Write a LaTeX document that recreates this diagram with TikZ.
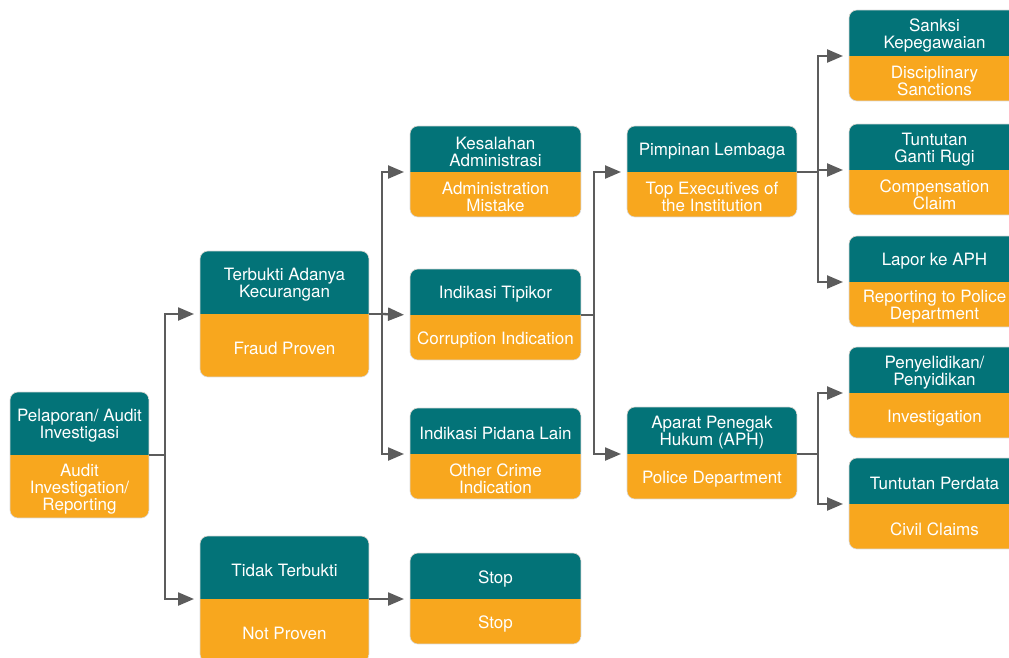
\documentclass[tikz,border=0pt]{standalone}
\usepackage{fontspec}
\setmainfont{TeX Gyre Heros}
\usetikzlibrary{arrows.meta,calc}
\definecolor{boxteal}{RGB}{3,115,120}
\definecolor{boxorange}{RGB}{248,167,30}
\definecolor{linkgray}{RGB}{92,92,92}
\tikzset{
  boxframe/.style={inner sep=0pt, outer sep=0pt, draw=none},
  boxlabel/.style={text=white, align=center, inner sep=0pt, yshift=-2.5pt,
    font=\fontsize{17}{17}\selectfont},
  link/.style={draw=linkgray, line width=2.3pt},
  flow/.style={link, -{Triangle[length=16pt,width=13pt]}, shorten >=6pt},
}
% \flowbox{name}{left}{top}{width}{upper height}{total height}{upper text}{lower text}
\newcommand\flowbox[8]{%
  \node[boxframe, minimum width=#4pt, minimum height=#6pt, anchor=north west] (#1) at (#2,#3) {};
  \begin{scope}
    \clip[rounded corners=8pt] (#1.north west) rectangle (#1.south east);
    \fill[boxorange] (#1.north west) rectangle (#1.south east);
    \fill[boxteal] (#1.north west) rectangle ($(#1.north east)+(0,#5)$);
  \end{scope}
  \draw[black!15, line width=0.6pt, rounded corners=8pt] (#1.north west) rectangle (#1.south east);
  \coordinate (#1-l) at ($(#1.north west)+(0,#5)$);
  \coordinate (#1-r) at ($(#1.north east)+(0,#5)$);
  \node[boxlabel] (#1-top) at ($(#1.north)!0.5!(#1-l -| #1.north)$) {#7};
  \node[boxlabel] (#1-bot) at ($(#1.south)!0.5!(#1-l -| #1.south)$) {#8};
}
\begin{document}
\begin{tikzpicture}[x=1pt,y=-1pt]
  \clip (0,0) rectangle (1009,657);

  % column 1
  \flowbox{pel}{10}{392}{139}{63}{126}{Pelaporan/ Audit\\Investigasi}{Audit\\Investigation/\\Reporting}
  % column 2
  \flowbox{ter}{200}{251}{169}{63}{126}{Terbukti Adanya\\Kecurangan}{Fraud Proven}
  \flowbox{tid}{200}{536}{169}{63}{126}{Tidak Terbukti}{Not Proven}
  % column 3
  \flowbox{kes}{410}{126}{171}{46}{91}{Kesalahan\\Administrasi}{Administration\\Mistake}
  \flowbox{tip}{410}{269}{171}{46}{91}{Indikasi Tipikor}{Corruption Indication}
  \flowbox{pid}{410}{408}{171}{46}{91}{Indikasi Pidana Lain}{Other Crime\\Indication}
  \flowbox{stop}{410}{553}{171}{46}{91}{Stop}{Stop}
  % column 4
  \flowbox{pim}{627}{126}{170}{46}{91}{Pimpinan Lembaga}{Top Executives of\\the Institution}
  \flowbox{apa}{627}{407}{170}{47}{92}{Aparat Penegak\\Hukum (APH)}{Police Department}
  % column 5
  \flowbox{san}{849}{10}{171}{46}{91}{Sanksi\\Kepegawaian}{Disciplinary\\Sanctions}
  \flowbox{gan}{849}{124}{171}{46}{91}{Tuntutan\\Ganti Rugi}{Compensation\\Claim}
  \flowbox{lap}{849}{236}{171}{46}{91}{Lapor ke APH}{Reporting to Police\\Department}
  \flowbox{pen}{849}{347}{171}{46}{91}{Penyelidikan/\\Penyidikan}{Investigation}
  \flowbox{per}{849}{458}{171}{46}{91}{Tuntutan Perdata}{Civil Claims}

  % branch points
  \coordinate (j1) at ($(pel-r)+(16,0)$);
  \coordinate (j2) at ($(ter-r)+(13,0)$);
  \coordinate (j3) at ($(tip-r)+(13,0)$);
  \coordinate (j4) at ($(pim-r)+(21,0)$);
  \coordinate (j5) at ($(apa-r)+(21,0)$);

  % connectors
  \draw[link] (pel-r) -- (j1);
  \draw[flow] (j1) |- (ter-l);
  \draw[flow] (j1) |- (tid-l);

  \draw[link] (ter-r) -- (j2);
  \draw[flow] (j2) |- (kes-l);
  \draw[flow] (j2) -- (tip-l);
  \draw[flow] (j2) |- (pid-l);

  \draw[flow] (tid-r) -- (stop-l);

  \draw[link] (tip-r) -- (j3);
  \draw[flow] (j3) |- (pim-l);
  \draw[flow] (j3) |- (apa-l);

  \draw[link] (pim-r) -- (j4);
  \draw[flow] (j4) |- (san-l);
  \draw[flow] (j4) |- (gan-l);
  \draw[flow] (j4) |- (lap-l);

  \draw[link] (apa-r) -- (j5);
  \draw[flow] (j5) |- (pen-l);
  \draw[flow] (j5) |- (per-l);
\end{tikzpicture}
\end{document}
